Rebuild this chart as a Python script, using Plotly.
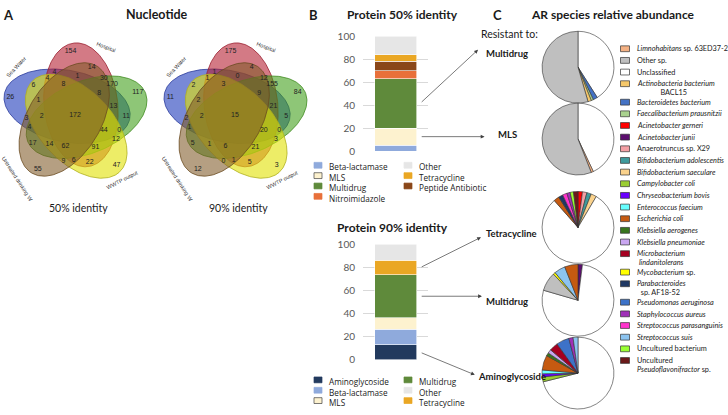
import numpy as np
import plotly.graph_objects as go

FIG_W, FIG_H = 728, 415
FONT = "Lato"
NUMFONT = "Liberation Sans"

# ---------------- Panel A: Venn counts (keys = sets sharing the region) ----------------
set_names = ["Sea Water", "Hospital", "WWTP input", "WWTP output", "Untreated drinking W"]
set_keys = ["S", "H", "I", "O", "U"]
venn_panels = ["50% identity", "90% identity"]
venn50 = {"S": 26, "H": 154, "I": 117, "O": 47, "U": 55,
          "SH": 4, "HI": 170, "IO": 12, "OU": 9, "SU": 3,
          "HU": 14, "SI": 11, "HO": 22, "IU": 17, "SO": 6,
          "SHU": 1, "HIU": 30, "SHI": 13, "SIO": 0, "HIO": 91,
          "HOU": 6, "IOU": 14, "SIU": 4, "SOU": 1, "SHO": 4,
          "SHIU": 8, "SHIO": 44, "HIOU": 62, "SIOU": 2, "SHOU": 8,
          "SHIOU": 172}
venn90 = {"S": 11, "H": 175, "I": 84, "O": 3, "U": 12,
          "SH": 1, "HI": 155, "IO": 3, "OU": 0, "SU": 2,
          "HU": 4, "SI": 5, "HO": 5, "IU": 5, "SO": 2,
          "SHU": 0, "HIU": 12, "SHI": 21, "SIO": 0, "HIO": 21,
          "HOU": 1, "IOU": 1, "SIU": 1, "SOU": 2, "SHO": 1,
          "SHIU": 9, "SHIO": 20, "HIOU": 6, "SIOU": 2, "SHOU": 3,
          "SHIOU": 15}

# ---------------- Panel B: protein classes (%) ----------------
p50_classes = ["Beta-lactamase", "MLS", "Multidrug", "Nitroimidazole", "Peptide Antibiotic", "Tetracycline", "Other"]
p50_values = [5, 15, 43, 7, 8, 6, 16]
p90_classes = ["Aminoglycoside", "Beta-lactamase", "MLS", "Multidrug", "Tetracycline", "Other"]
p90_values = [13, 13.5, 10, 37, 12.5, 14]
bar_ticks = [0, 20, 40, 60, 80, 100]

# ---------------- Panel C: species pies (%) ----------------
species = ["Limnohabitans sp. 63ED37-2", "Other sp.", "Unclassified", "Actinobacteria bacterium BACL15",
           "Bacteroidetes bacterium", "Faecalibacterium prausnitzii", "Acinetobacter gerneri", "Acinetobacter junii",
           "Anaerotruncus sp. X29", "Bifidobacterium adolescentis", "Bifidobacterium saeculare", "Campylobacter coli",
           "Chryseobacterium bovis", "Enterococcus faecium", "Escherichia coli", "Klebsiella aerogenes",
           "Klebsiella pneumoniae", "Microbacterium lindanitolerans", "Mycobacterium sp.", "Parabacteroides sp. AF18-52",
           "Pseudomonas aeruginosa", "Staphylococcus aureus", "Streptococcus parasanguinis", "Streptococcus suis",
           "Uncultured bacterium", "Uncultured Pseudoflavonifractor sp."]
species_display = ["<i>Limnohabitans</i> sp. 63ED37-2", "Other sp.", "Unclassified",
                   "<i>Actinobacteria bacterium</i><br>            BACL15", "<i>Bacteroidetes bacterium</i>",
                   "<i>Faecalibacterium prausnitzii</i>", "<i>Acinetobacter gerneri</i>", "<i>Acinetobacter junii</i>",
                   "Anaerotruncus sp. X29", "<i>Bifidobacterium adolescentis</i>", "<i>Bifidobacterium saeculare</i>",
                   "<i>Campylobacter coli</i>", "<i>Chryseobacterium bovis</i>", "<i>Enterococcus faecium</i>",
                   "<i>Escherichia coli</i>", "<i>Klebsiella aerogenes</i>", "<i>Klebsiella pneumoniae</i>",
                   "<i>Microbacterium</i><br> <i>lindanitolerans</i>", "<i>Mycobacterium</i> sp.",
                   "<i>Parabacteroides</i><br>  sp. AF18-52", "<i>Pseudomonas aeruginosa</i>",
                   "<i>Staphylococcus aureus</i>", "<i>Streptococcus parasanguinis</i>", "<i>Streptococcus suis</i>",
                   "Uncultured bacterium", "Uncultured<br><i>Pseudoflavonifractor</i> sp."]
pie_targets = ["Multidrug", "MLS", "Tetracycline", "Multidrug", "Aminoglycoside"]
pie1_species = ["Unclassified", "Bacteroidetes bacterium", "Faecalibacterium prausnitzii",
                "Actinobacteria bacterium BACL15", "Other sp."]
pie1_values = [41, 2, 1, 1.5, 54.5]
pie2_species = ["Unclassified", "Limnohabitans sp. 63ED37-2", "Other sp."]
pie2_values = [43, 1, 56]
pie3_species = ["Acinetobacter gerneri", "Anaerotruncus sp. X29", "Bifidobacterium adolescentis",
                "Bifidobacterium saeculare", "Unclassified", "Escherichia coli", "Parabacteroides sp. AF18-52",
                "Streptococcus parasanguinis", "Staphylococcus aureus", "Uncultured bacterium",
                "Uncultured Pseudoflavonifractor sp."]
pie3_values = [2, 2, 2, 2.5, 80, 2.5, 2, 2, 1.5, 1.5, 2]
pie4_species = ["Acinetobacter junii", "Unclassified", "Other sp.", "Mycobacterium sp.",
                "Streptococcus suis", "Escherichia coli"]
pie4_values = [2, 77.5, 8.5, 1, 5, 6]
pie5_species = ["Unclassified", "Campylobacter coli", "Chryseobacterium bovis", "Enterococcus faecium",
                "Escherichia coli", "Klebsiella aerogenes", "Klebsiella pneumoniae",
                "Microbacterium lindanitolerans", "Pseudomonas aeruginosa", "Staphylococcus aureus",
                "Streptococcus suis"]
pie5_values = [71.1, 2.2, 1.4, 1.7, 6.7, 1.4, 1.7, 3.9, 5.8, 1.9, 2.2]

# ---------------- styles ----------------
venn_fill = ["rgba(22,51,184,0.58)", "rgba(180,25,45,0.58)", "rgba(60,157,20,0.58)",
             "rgba(226,226,10,0.62)", "rgba(128,90,39,0.58)"]
venn_line = ["#2a3a9a", "#9a2030", "#3f8a20", "#b0b020", "#6a4a20"]
class_colors = {"Beta-lactamase": "#8faadc", "MLS": "#fdf2cf", "Multidrug": "#5f8a3b",
                "Nitroimidazole": "#e8703a", "Peptide Antibiotic": "#8a4719", "Tetracycline": "#eaa724",
                "Other": "#e6e6e6", "Aminoglycoside": "#223a5e"}
species_colors = ["#f4b183", "#bfbfbf", "#ffffff", "#f6c86a", "#4472c4", "#a9d18e", "#ff0000", "#5c0e6e",
                  "#f4a0a4", "#3f9a9c", "#fad28c", "#9acd32", "#6a00ff", "#66ffff", "#c55a11", "#38761d",
                  "#c9a6f0", "#a50021", "#ffff00", "#1f3864", "#3d72c8", "#a030b8", "#ff33cc", "#8cc4f0",
                  "#99ff33", "#6b1a1a"]
col_of = dict(zip(species, species_colors))

annotations, shapes, traces = [], [], []
layout_axes = {}


def px_x(x):
    return x / FIG_W


def px_y(y):
    return 1 - y / FIG_H


def text(x, y, s, size=10, bold=False, xanchor="left", yanchor="middle", color="#1a1a1a", family=FONT):
    if bold:
        s = f"<b>{s}</b>"
    annotations.append(dict(x=px_x(x), y=px_y(y), xref="paper", yref="paper", text=s, showarrow=False,
                            xanchor=xanchor, yanchor=yanchor, align="left", borderpad=0,
                            font=dict(size=size, color=color, family=family)))


def swatch(cx, cy, w, h, fill, line):
    shapes.append(dict(type="rect", xref="paper", yref="paper", x0=px_x(cx - w / 2), x1=px_x(cx + w / 2),
                       y0=px_y(cy + h / 2), y1=px_y(cy - h / 2), fillcolor=fill, line=dict(color=line, width=0.7)))


# ---------------- Venn geometry (five rotated ellipses) ----------------
PSI = [318, 30, 102, 174, 246]
B_MAJ, A_MIN, D_OFF, TILT = 1.0, 0.575, 0.185, 36
UPX = 64.0  # pixels per unit


def ell_params(i):
    psi = np.radians(PSI[i])
    th = np.pi / 2 - np.radians(PSI[i] - TILT)
    return D_OFF * np.sin(psi), D_OFF * np.cos(psi), th


def ell_xy(i, n=240):
    cx, cy, th = ell_params(i)
    t = np.linspace(0, 2 * np.pi, n)
    u, v = B_MAJ * np.cos(t), A_MIN * np.sin(t)
    return cx + u * np.cos(th) - v * np.sin(th), cy + u * np.sin(th) + v * np.cos(th)


g = np.linspace(-1.35, 1.35, 271)
GX, GY = np.meshgrid(g, g)
ins, dst = [], []
for i in range(5):
    cx, cy, th = ell_params(i)
    dx, dy = GX - cx, GY - cy
    u = dx * np.cos(th) + dy * np.sin(th)
    v = -dx * np.sin(th) + dy * np.cos(th)
    q = (u / B_MAJ) ** 2 + (v / A_MIN) ** 2
    grad = 2 * np.sqrt((u / B_MAJ ** 2) ** 2 + (v / A_MIN ** 2) ** 2) + 1e-9
    ins.append(q < 1)
    dst.append(np.abs(q - 1) / grad)
ins, dst = np.array(ins), np.array(dst)
margin = dst.min(axis=0)
codes = np.zeros(GX.shape, int)
for i in range(5):
    codes |= ins[i].astype(int) << i
present = [c for c in range(1, 32) if (codes == c).any()]
order = sorted(present, key=lambda c: margin[codes == c].max())
anchors, chosen = {}, []
for c in order:
    score = margin.copy()
    if chosen:
        dmin = np.min([np.hypot(GX - x0, GY - y0) for x0, y0 in chosen], axis=0)
        score = np.minimum(score, 0.3 * (dmin - 0.06))
    k = np.argmax(np.where(codes == c, score, -9))
    pt = (GX.flat[k], GY.flat[k])
    chosen.append(pt)
    anchors["".join(set_keys[i] for i in range(5) if c >> i & 1)] = pt

set_label_pos = [(-50, 77, -47), (24, 76, 21), (93, 77, 90), (145, 82, -27), (221, 88, 57)]
venn_centers_px = [75, 235]
VENN_CY = 111
for p, (cxp, counts, title) in enumerate(zip(venn_centers_px, [venn50, venn90], venn_panels)):
    xa = "x" if p == 0 else "x2"
    ya = "y" if p == 0 else "y2"
    for i in range(5):
        ex, ey = ell_xy(i)
        traces.append(go.Scatter(x=ex, y=ey, mode="lines", fill="toself", fillcolor=venn_fill[i],
                                 line=dict(color=venn_line[i], width=0.8), xaxis=xa, yaxis=ya,
                                 hoverinfo="skip", showlegend=False))
    keys = [k for k in anchors if k in counts]
    traces.append(go.Scatter(x=[anchors[k][0] for k in keys], y=[anchors[k][1] for k in keys], mode="text",
                             text=[str(counts[k]) for k in keys],
                             textfont=dict(size=7, color="#222", family=NUMFONT),
                             xaxis=xa, yaxis=ya, hoverinfo="skip", showlegend=False))
    for i, (cmp, rpx, ang) in enumerate(set_label_pos):
        r = rpx / UPX
        annotations.append(dict(x=r * np.sin(np.radians(cmp)), y=r * np.cos(np.radians(cmp)), xref=xa, yref=ya,
                                text=set_names[i], showarrow=False, textangle=ang,
                                font=dict(size=5.5, color="#333", family=NUMFONT)))
    half_w, half_h = 75, 83
    layout_axes["xaxis" if p == 0 else "xaxis2"] = dict(
        domain=[max(0, px_x(cxp - half_w)), px_x(cxp + half_w)], range=[-half_w / UPX, half_w / UPX],
        visible=False, anchor=ya)
    layout_axes["yaxis" if p == 0 else "yaxis2"] = dict(
        domain=[px_y(VENN_CY + half_h), px_y(VENN_CY - half_h)], range=[-half_h / UPX, half_h / UPX],
        visible=False, anchor=xa)
    text(cxp + 3, 207, title, size=10.5, xanchor="center")

# ---------------- Panel B: stacked bars ----------------
bar_specs = [("x3", "y3", p50_classes, p50_values, 30, 148.3), ("x4", "y4", p90_classes, p90_values, 244.3, 363.3)]
for xa, ya, cls, vals, ytop, ybot in bar_specs:
    for c, v in zip(cls, vals):
        traces.append(go.Bar(x=[0], y=[v], width=0.646, marker=dict(color=class_colors[c],
                             line=dict(color="white", width=0.6)), xaxis=xa, yaxis=ya,
                             hoverinfo="skip", showlegend=False))
    layout_axes["xaxis" + xa[1:]] = dict(domain=[px_x(363), px_x(428)], range=[-0.5, 0.5], visible=False,
                                         anchor=ya)
    layout_axes["yaxis" + ya[1:]] = dict(domain=[px_y(ybot), px_y(ytop)], range=[0, 100], tickvals=bar_ticks,
                                         showgrid=True, gridcolor="#d9d9d9", gridwidth=0.8, zeroline=False,
                                         showline=False, ticks="", ticklabelstandoff=7,
                                         tickfont=dict(size=10, color="#595959", family=FONT), anchor=xa)

# arrows from bar segments to the pie labels
arrow_specs = [("x3", "y3", p50_classes, p50_values, "Multidrug", 1.27, 88.2),
               ("x3", "y3", p50_classes, p50_values, "MLS", 1.37, None),
               ("x4", "y4", p90_classes, p90_values, "Tetracycline", 1.315, 106.0),
               ("x4", "y4", p90_classes, p90_values, "Multidrug", 1.33, None),
               ("x4", "y4", p90_classes, p90_values, "Aminoglycoside", 1.22, -13.0)]
for xa, ya, cls, vals, target, hx, hy in arrow_specs:
    k = cls.index(target)
    mid = sum(vals[:k]) + vals[k] / 2
    annotations.append(dict(x=hx, y=mid if hy is None else hy, xref=xa, yref=ya, axref=xa, ayref=ya,
                            ax=0.38, ay=mid, text="", showarrow=True, arrowhead=2, arrowsize=1.1,
                            arrowwidth=0.7, arrowcolor="#404040", standoff=0))

# legends: one multi-line text block per column (line pitch = 1.3 x font size)
LEG_SIZE = 8.2
LEG_PITCH = 1.3 * LEG_SIZE
legend50_cols = [["Beta-lactamase", "MLS", "Multidrug", "Nitroimidazole"], ["Other", "Tetracycline", "Peptide Antibiotic"]]
legend90_cols = [["Aminoglycoside", "Beta-lactamase", "MLS"], ["Multidrug", "Other", "Tetracycline"]]
for cols, y0 in [(legend50_cols, 163), (legend90_cols, 384)]:
    for ci, col in enumerate(cols):
        xs = 318 if ci == 0 else 408
        for ri, c in enumerate(col):
            swatch(xs, y0 + ri * LEG_PITCH, 8, 6, class_colors[c], "#404040" if c == "MLS" else class_colors[c])
        text(xs + 10, y0 - LEG_PITCH / 2, "<br>".join(col), size=LEG_SIZE, yanchor="top", family="Open Sans")

# ---------------- Panel C: pies ----------------
pie_species = [pie1_species, pie2_species, pie3_species, pie4_species, pie5_species]
pie_values = [pie1_values, pie2_values, pie3_values, pie4_values, pie5_values]
pie_cy = [62, 136, 227, 302, 377]
PIE_R, PIE_CX = 37, 578
for sp, vals, cy in zip(pie_species, pie_values, pie_cy):
    traces.append(go.Pie(labels=sp, values=vals, sort=False, direction="clockwise", rotation=0,
                         textinfo="none", hoverinfo="skip", showlegend=False,
                         marker=dict(colors=[col_of[s] for s in sp], line=dict(color="#333333", width=0.6)),
                         domain=dict(x=[px_x(PIE_CX - PIE_R), px_x(PIE_CX + PIE_R)],
                                     y=[max(0, px_y(cy + PIE_R)), px_y(cy - PIE_R)])))

pie_label_pos = [(485, 48), (497, 131), (485, 233), (485, 303), (477, 380)]
for t, (x, y) in zip(pie_targets, pie_label_pos):
    text(x, y, t, size=9.5, bold=True)
text(480, 28, "Resistant to:", size=10.5)

yy = 43
for s, disp in zip(species, species_display):
    swatch(625, yy, 9, 6, col_of[s], "#333333")
    text(636, yy - 5.5, disp, size=7.3, yanchor="top")
    yy += 19 if "<br>" in disp else 12

# ---------------- titles ----------------
text(2, 8, "A", size=13, bold=True)
text(157, 8, "Nucleotide", size=12.5, bold=True, xanchor="center")
text(313, 8, "B", size=13, bold=True, xanchor="center")
text(402, 8, "Protein 50% identity", size=12, bold=True, xanchor="center")
text(392, 227, "Protein 90% identity", size=12, bold=True, xanchor="center")
text(497, 8, "C", size=13, bold=True, xanchor="center")
text(613, 8, "AR species relative abundance", size=12, bold=True, xanchor="center")

fig = go.Figure(traces)
fig.update_layout(width=FIG_W, height=FIG_H, margin=dict(l=0, r=0, t=0, b=0), paper_bgcolor="white",
                  plot_bgcolor="rgba(0,0,0,0)", barmode="stack", showlegend=False,
                  annotations=annotations, shapes=shapes, font=dict(family=FONT), **layout_axes)
css_fix = ("var s=document.createElement('style');"
           "s.innerHTML='html,body{margin:0!important;padding:0!important;overflow:hidden!important;}';"
           "document.head.appendChild(s);")
fig.write_html("out.html", config={"displayModeBar": False, "responsive": False}, post_script=css_fix)
